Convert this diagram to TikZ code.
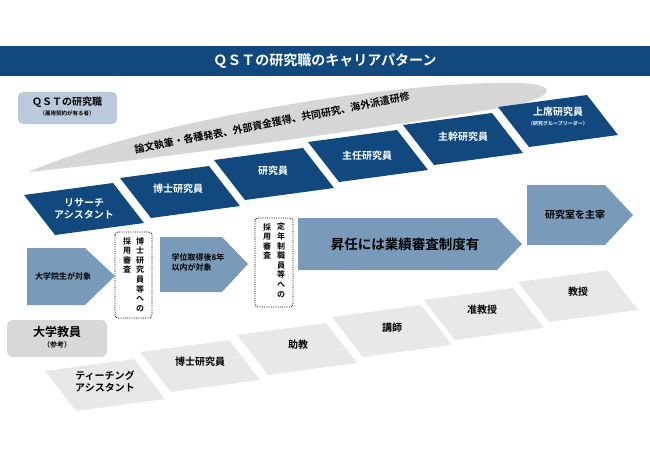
\documentclass[tikz,border=0pt]{standalone}
\usepackage{fontspec}
\setmainfont{Noto Sans CJK JP}[BoldFont={Noto Sans CJK JP Bold}]
\usetikzlibrary{calc}
\definecolor{dblue}{HTML}{11497F}
\definecolor{mblue}{HTML}{7A9ABA}
\definecolor{lblue}{HTML}{BACADB}
\definecolor{swg}{HTML}{D6D6D6}
\definecolor{lgray}{HTML}{E8E8E8}
\definecolor{ugray}{HTML}{D8D8D8}
\newcommand\myslant[3]{\fill[#3] (#1,#2) ++(-60,-14) -- ++(89,-12) -- ++(31,40) -- ++(-89,12) -- cycle;}
\tikzset{
  wt/.style={text=white,font=\bfseries\fontsize{10}{12}\selectfont,align=center},
  gt/.style={text=black,font=\bfseries\fontsize{10}{12}\selectfont,align=center},
  arr/.style={fill=mblue},
  dotbox/.style={draw,densely dotted,rounded corners=3pt,thick},
  vt/.style={font=\bfseries\fontsize{8}{9.6}\selectfont,align=center,anchor=north,inner sep=0pt}
}
\begin{document}
\begin{tikzpicture}[x=1pt,y=-1pt]
\useasboundingbox (0,0) rectangle (650,459);
\fill[white] (0,0) rectangle (650,459);
% title
\fill[dblue] (0,46) rectangle (650,76);
\node[text=white,font=\bfseries\fontsize{14}{16}\selectfont] (title) at (325,61) {ＱＳＴの研究職のキャリアパターン};
% QST label
\fill[lblue,rounded corners=5pt] (18,92) rectangle (117,124);
\node[font=\bfseries\fontsize{10}{11}\selectfont,align=center,inner sep=0pt] (qst) at (67,107) {ＱＳＴの研究職\\[-1pt]{\fontsize{5.5}{6}\selectfont （雇用契約が有る者）}};
% swoosh
\fill[swg] (28,172) .. controls (150,120) and (400,80) .. (520,83) .. controls (565,85) and (550,100) .. (500,108) .. controls (380,128) and (150,160) .. (28,172) -- cycle;
\node[rotate=11,font=\bfseries\fontsize{10}{11}\selectfont,inner sep=1pt] (sw) at (272,123) {論文執筆・各種発表、外部資金獲得、共同研究、海外派遣研修};
% dark blue steps
\myslant{84}{209}{dblue}
\node[wt] (ra) at (84,209) {リサーチ\\アシスタント};
\myslant{180}{192}{dblue}
\node[wt] (pd) at (178,189) {博士研究員};
\myslant{274}{174}{dblue}
\node[wt] (re) at (273,171) {研究員};
\myslant{368}{156}{dblue}
\node[wt,inner sep=1pt] (sr) at (367,156) {主任研究員};
\myslant{463}{139}{dblue}
\node[wt] (pr) at (463,137) {主幹研究員};
\myslant{558}{121}{dblue}
\node[wt] (se) at (558,116) {上席研究員\\[-2pt]{\fontsize{5}{6}\selectfont （研究グループリーダー）}};
% mid blue arrows
\fill[arr] (27,248) -- (85,248) -- (115,276) -- (85,305) -- (27,305) -- cycle;
\node[font=\bfseries\fontsize{8}{10}\selectfont] (a1) at (63,276) {大学院生が対象};
\fill[arr] (160,237) -- (222,237) -- (248,264) -- (222,292) -- (160,292) -- cycle;
\node[font=\bfseries\fontsize{8}{10}\selectfont,align=left] (a2) at (198,262) {学位取得後8年\\以内が対象};
\fill[arr] (298,218) -- (497,218) -- (522,244) -- (497,270) -- (298,270) -- cycle;
\node[font=\bfseries\fontsize{13.5}{15}\selectfont] (a3) at (405,244) {昇任には業績審査制度有};
\fill[arr] (527,185) -- (605,185) -- (633,215) -- (605,245) -- (527,245) -- cycle;
\node[font=\bfseries\fontsize{10}{11}\selectfont] (a4) at (575,215) {研究室を主宰};
% dotted boxes
\draw[dotbox] (115,232) rectangle (152,318);
\node[vt] (d1r) at (140,237) {博\\士\\研\\究\\員\\等\\へ\\の};
\node[vt] (d1l) at (127,237) {採\\用\\審\\査};
\draw[dotbox] (255,218) rectangle (293,307);
\node[vt] (d2r) at (281,223) {定\\年\\制\\職\\員\\等\\へ\\の};
\node[vt] (d2l) at (267,223) {採\\用\\審\\査};
% university
\fill[ugray,rounded corners=6pt] (7,320) rectangle (107,357);
\node[font=\bfseries\fontsize{12}{13}\selectfont,align=center,inner sep=0pt] (univ) at (57,337) {大学教員\\[-2pt]{\fontsize{7}{8}\selectfont （参考）}};
\myslant{105}{385}{lgray}
\node[gt] (ta) at (105,381) {ティーチング\\アシスタント};
\myslant{200}{366}{lgray}
\node[gt] (upd) at (200,362) {博士研究員};
\myslant{297}{349}{lgray}
\node[gt] (as) at (298,345) {助教};
\myslant{392}{331}{lgray}
\node[gt] (le) at (392,328) {講師};
\myslant{484}{314}{lgray}
\node[gt] (ap) at (482,310) {准教授};
\myslant{578}{296}{lgray}
\node[gt] (fp) at (578,292) {教授};
\end{tikzpicture}
\end{document}
